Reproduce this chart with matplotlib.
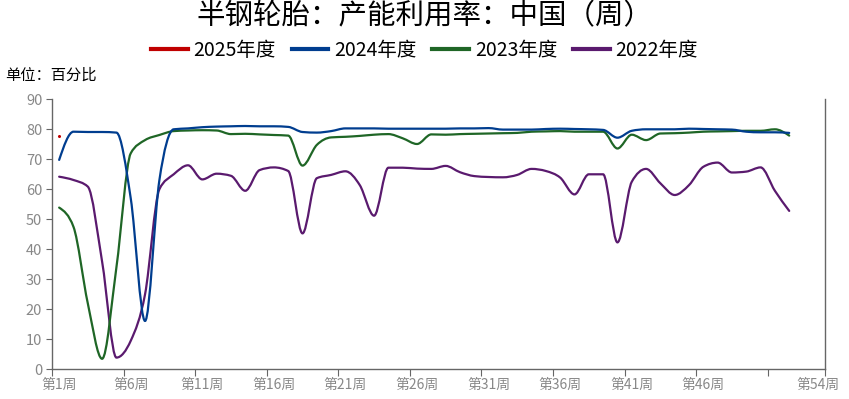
import numpy as np
import matplotlib
matplotlib.use("Agg")
import matplotlib.pyplot as plt
from matplotlib.path import Path
from matplotlib.patches import PathPatch
from matplotlib.lines import Line2D

plt.rcParams['font.family'] = ['Noto Sans CJK SC', 'DejaVu Sans']

title = "半钢轮胎：产能利用率：中国（周）"
unit = "单位：百分比"
weeks = ["第%d周" % w for w in range(1, 55)]
names = ["2025年度", "2024年度", "2023年度", "2022年度"]
colors = ["#c00000", "#003d8f", "#1f6626", "#5a1a6e"]

v2025 = [77.8]
v2024 = [69.8, 79.2, 79.1, 79.1, 78.9, 57.0, 16.1, 63.0, 80.0,
         80.3, 80.7, 80.9, 81.0, 81.1, 81.0, 81.0, 80.8, 79.1,
         78.9, 79.4, 80.3, 80.3, 80.3, 80.2, 80.2, 80.2, 80.2,
         80.2, 80.3, 80.3, 80.4, 79.9, 79.9, 79.9, 80.1, 80.2,
         80.1, 80.0, 79.8, 77.2, 79.5, 80.0, 80.0, 80.0, 80.2,
         80.1, 80.0, 79.9, 79.2, 79.0, 79.0, 78.8]
v2023 = [53.9, 47.5, 22.0, 3.5, 34.0, 72.0, 76.4, 78.1, 79.4,
         79.6, 79.7, 79.6, 78.4, 78.5, 78.3, 78.1, 77.9, 67.9,
         74.8, 77.3, 77.5, 77.8, 78.2, 78.4, 77.0, 75.1, 78.3,
         78.2, 78.4, 78.5, 78.6, 78.7, 78.8, 79.2, 79.3, 79.4,
         79.2, 79.2, 79.2, 73.6, 78.2, 76.4, 78.6, 78.7, 78.9,
         79.2, 79.3, 79.4, 79.5, 79.5, 80.0, 77.9]
v2022 = [64.2, 63.1, 60.9, 35.9, 3.9, 9.5, 25.0, 60.0, 65.0,
         68.0, 63.3, 65.2, 64.5, 59.5, 66.4, 67.3, 66.1, 45.3,
         63.7, 64.8, 66.0, 61.4, 51.2, 67.2, 67.2, 66.9, 66.8,
         67.8, 65.7, 64.4, 64.1, 64.0, 64.8, 66.8, 66.1, 63.9,
         58.3, 65.0, 65.0, 42.3, 62.5, 66.8, 62.0, 58.1, 61.4,
         67.5, 68.9, 65.6, 65.9, 67.3, 59.5, 52.8]


def monotone_path(ys):
    # monotone-x cubic (d3 style), drawn as bezier segments
    y = np.asarray(ys, dtype=float)
    x = np.arange(len(y), dtype=float)
    n = len(y)
    s = np.diff(y)  # spacing is 1
    m = np.zeros(n)
    for i in range(1, n - 1):
        s0, s1 = s[i - 1], s[i]
        p = (s0 + s1) / 2
        m[i] = (np.sign(s0) + np.sign(s1)) * min(abs(s0), abs(s1), 0.5 * abs(p))
    m[0] = (3 * s[0] - m[1]) / 2
    m[-1] = (3 * s[-1] - m[-2]) / 2
    verts = [(x[0], y[0])]
    codes = [Path.MOVETO]
    for i in range(n - 1):
        verts += [(x[i] + 1 / 3, y[i] + m[i] / 3),
                  (x[i + 1] - 1 / 3, y[i + 1] - m[i + 1] / 3),
                  (x[i + 1], y[i + 1])]
        codes += [Path.CURVE4] * 3
    return Path(verts, codes)


fig = plt.figure(figsize=(8.49, 3.99), dpi=100)
ax = fig.add_axes([52 / 849, 1 - 369.3 / 399, 773 / 849, 270 / 399])

ax.plot([0], v2025, marker='o', ms=1.2, lw=0, color=colors[0])
for vals, c in zip([v2022, v2023, v2024], [colors[3], colors[2], colors[1]]):
    ax.add_patch(PathPatch(monotone_path(vals), fill=False, edgecolor=c, lw=1.6,
                           capstyle='round', joinstyle='round'))

ax.set_xlim(-0.5, 53.5)
ax.set_ylim(0, 90)
ax.set_yticks(range(0, 91, 10))
bounds = [b - 0.5 for b in range(0, 51, 5)] + [53.5]
ax.set_xticks(bounds)
ax.set_xticklabels([''] * len(bounds))
lab_pos = list(range(0, 50, 5)) + [53]
ax.set_xticks(lab_pos, minor=True)
ax.set_xticklabels([weeks[i] for i in lab_pos], minor=True)
ax.tick_params(axis='x', which='major', length=5, color='#666666')
ax.tick_params(axis='x', which='minor', length=0, pad=6, labelsize=10, labelcolor='#888888')
ax.tick_params(axis='y', length=4, color='#666666', labelsize=10.5, labelcolor='#888888', pad=3)
for side in ['left', 'bottom', 'right']:
    ax.spines[side].set_color('#666666')
    ax.spines[side].set_linewidth(1.0)
ax.spines['top'].set_visible(False)

handles = [Line2D([], [], color=c, lw=3) for c in colors]
fig.legend(handles, names, loc='center', bbox_to_anchor=(0.5, 1 - 50 / 399), ncol=4,
           frameon=False, fontsize=14, handlelength=1.9, handletextpad=0.3,
           columnspacing=0.8)
fig.text(0.5, 1 - 16 / 399, title, ha='center', va='center', fontsize=20.5, weight='medium')
fig.text(5 / 849, 1 - 75 / 399, unit, ha='left', va='center', fontsize=11)

fig.savefig('out.png', dpi=100)
